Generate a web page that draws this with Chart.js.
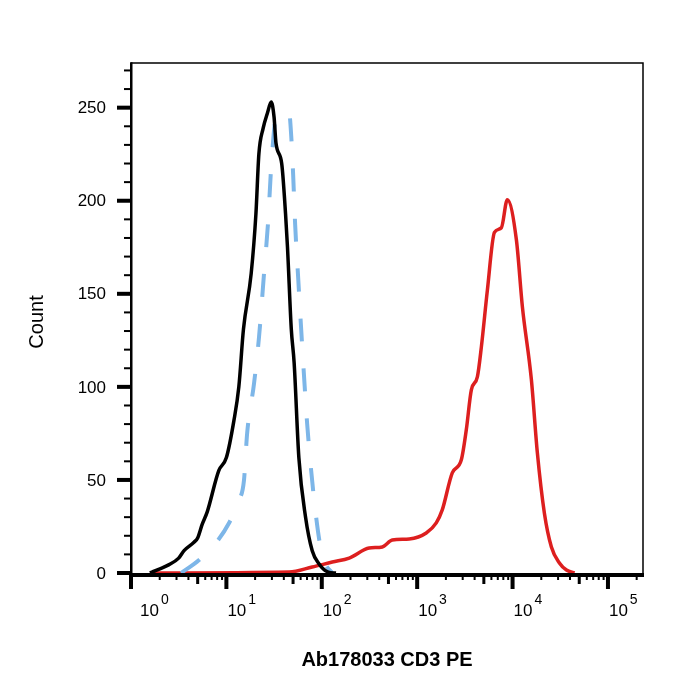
<!DOCTYPE html>
<html>
<head>
<meta charset="utf-8">
<script src="https://cdn.jsdelivr.net/npm/chart.js@4.4.1/dist/chart.umd.min.js"></script>
<style>
  body { margin: 0; background: #fff; }
  #wrap { width: 700px; height: 700px; }
</style>
</head>
<body>
<div id="wrap"><canvas id="histo" width="700" height="700"></canvas></div>
<script>
// values (x = fluorescence, y = count)
const blackX = [1.58, 1.66, 1.95, 2.51, 3.16, 3.6, 4.57, 5.01, 5.56, 6.31, 8.32, 10, 12.0, 13.5, 15.1, 18.2, 20.4, 21.9, 24.3, 26.9, 29.5, 31.6, 33.1, 38.0, 41.7, 43.7, 47.9, 51.3, 57.5, 67.6, 79.4, 93.3, 117, 141];
const blackY = [0, 0.5, 2, 4.5, 8, 12, 16.5, 19, 26, 33, 55, 62, 82, 100, 131, 161, 193, 225, 239, 247, 253, 245, 231, 220, 193, 175, 131, 113, 62, 30, 12, 5, 0.5, 0];

const blueX = [3.35, 5.17, 7.99, 10.7, 13.6, 15.3, 16.5, 19.5, 22.0, 24.9, 27.4, 29.4, 33.2, 35.7, 45.5, 47.8, 50.1, 52.6, 56.5, 60.8, 65.3, 70.3, 77.4, 87.3, 96.2, 109, 129];
const blueY = [0, 7, 17, 27, 39, 50, 75, 102, 127, 162, 189, 217, 245, 246, 247, 235, 214, 187, 159, 131, 105, 80, 55, 30, 15, 5, 0];

const redX = [1.58, 45.5, 79.3, 129, 194, 314, 431, 548, 826, 1245, 1585, 1832, 2333, 2904, 3273, 3698, 4276, 4710, 5445, 6457, 7638, 8810, 10965, 12677, 15740, 18197, 21580, 25530, 30970, 36730, 44670];
const redY = [0, 0.5, 3.2, 5.9, 8, 13.4, 14, 17.7, 18.3, 21.5, 26.9, 33.9, 53.8, 60.8, 76.9, 98.4, 105.4, 121.5, 152, 183, 185.5, 200.5, 179, 143, 104, 64.5, 32, 14, 5.4, 1.6, 0];

const yTickLabels = ['0', '50', '100', '150', '200', '250'];
const xTickExponents = ['0', '1', '2', '3', '4', '5'];

const FONT = '"Liberation Sans", Arial, sans-serif';

const toPoints = (xs, ys) => xs.map((x, i) => ({ x: x, y: ys[i] }));

// axes, tick marks and labels in the flow-cytometry style
const frameAxes = {
	id: 'frameAxes',
	afterDatasetsDraw(chart) {
		const { ctx, chartArea: a } = chart;
		const xs = chart.scales.x, ys = chart.scales.y;
		ctx.save();
		ctx.fillStyle = '#000';
		ctx.strokeStyle = '#000';

		// thin top / right border
		ctx.lineWidth = 1.5;
		ctx.beginPath();
		ctx.moveTo(a.left, a.top);
		ctx.lineTo(a.right, a.top);
		ctx.lineTo(a.right, a.bottom);
		ctx.stroke();

		// left and bottom axis lines
		ctx.fillRect(a.left - 1, a.top - 0.75, 2.5, a.bottom - a.top + 4);
		ctx.fillRect(a.left - 1, a.bottom, a.right - a.left + 2, 4);

		// y ticks every 10, major every 50
		for (let v = 0; v <= ys.max; v += 10) {
			const py = ys.getPixelForValue(v);
			if (v % 50 === 0) ctx.fillRect(a.left - 14, py - 2, 14, 4);
			else ctx.fillRect(a.left - 7, py - 1, 7, 2);
		}
		ctx.font = '17px ' + FONT;
		ctx.textAlign = 'right';
		ctx.textBaseline = 'middle';
		yTickLabels.forEach(t => {
			ctx.fillText(t, a.left - 25, ys.getPixelForValue(Number(t)) + 1);
		});

		// x log ticks
		for (let e = 0; e <= 5; e++) {
			for (let m = 1; m <= 9; m++) {
				const v = m * Math.pow(10, e);
				if (v > xs.max) break;
				const px = xs.getPixelForValue(v);
				if (m === 1) ctx.fillRect(px - 2, a.bottom, 4, 16);
				else if (m === 5) ctx.fillRect(px - 1.5, a.bottom, 3, 11);
				else ctx.fillRect(px - 1, a.bottom, 2, 7);
			}
		}
		// x labels: 10 with superscript exponent
		ctx.textAlign = 'left';
		xTickExponents.forEach((ex, i) => {
			const px = xs.getPixelForValue(Math.pow(10, Number(ex)));
			const left = Math.max(px + 1, a.left + 9);
			ctx.font = '17px ' + FONT;
			ctx.fillText('10', left, a.bottom + 38);
			const w = ctx.measureText('10').width;
			ctx.font = '14px ' + FONT;
			ctx.fillText(ex, left + w + 2, a.bottom + 27);
		});

		// axis titles
		ctx.textAlign = 'center';
		ctx.font = 'bold 20px ' + FONT;
		ctx.fillText('Ab178033 CD3 PE', 387, a.bottom + 87);
		ctx.save();
		ctx.translate(37, (a.top + a.bottom) / 2 + 4);
		ctx.rotate(-Math.PI / 2);
		ctx.font = '20px ' + FONT;
		ctx.fillText('Count', 0, 0);
		ctx.restore();

		ctx.restore();
	}
};

new Chart(document.getElementById('histo').getContext('2d'), {
	type: 'line',
	data: {
		datasets: [
			{
				label: 'Isotype',
				data: toPoints(blackX, blackY),
				borderColor: '#000000',
				borderWidth: 3.5
			},
			{
				label: 'Unstained',
				data: toPoints(blueX, blueY),
				borderColor: '#7db6e8',
				borderWidth: 4,
				borderDash: [23, 27]
			},
			{
				label: 'Ab178033',
				data: toPoints(redX, redY),
				borderColor: '#dd1f1f',
				borderWidth: 3.5
			}
		]
	},
	options: {
		responsive: false,
		animation: false,
		devicePixelRatio: 1,
		layout: { padding: { left: 131, top: 63, right: 57, bottom: 127 } },
		elements: {
			point: { radius: 0 },
			line: { cubicInterpolationMode: 'monotone', fill: false }
		},
		plugins: {
			legend: { display: false },
			tooltip: { enabled: false }
		},
		scales: {
			x: {
				type: 'logarithmic',
				display: false,
				min: 1,
				max: 233000
			},
			y: {
				type: 'linear',
				display: false,
				min: 0,
				max: 274
			}
		}
	},
	plugins: [frameAxes]
});
</script>
</body>
</html>
